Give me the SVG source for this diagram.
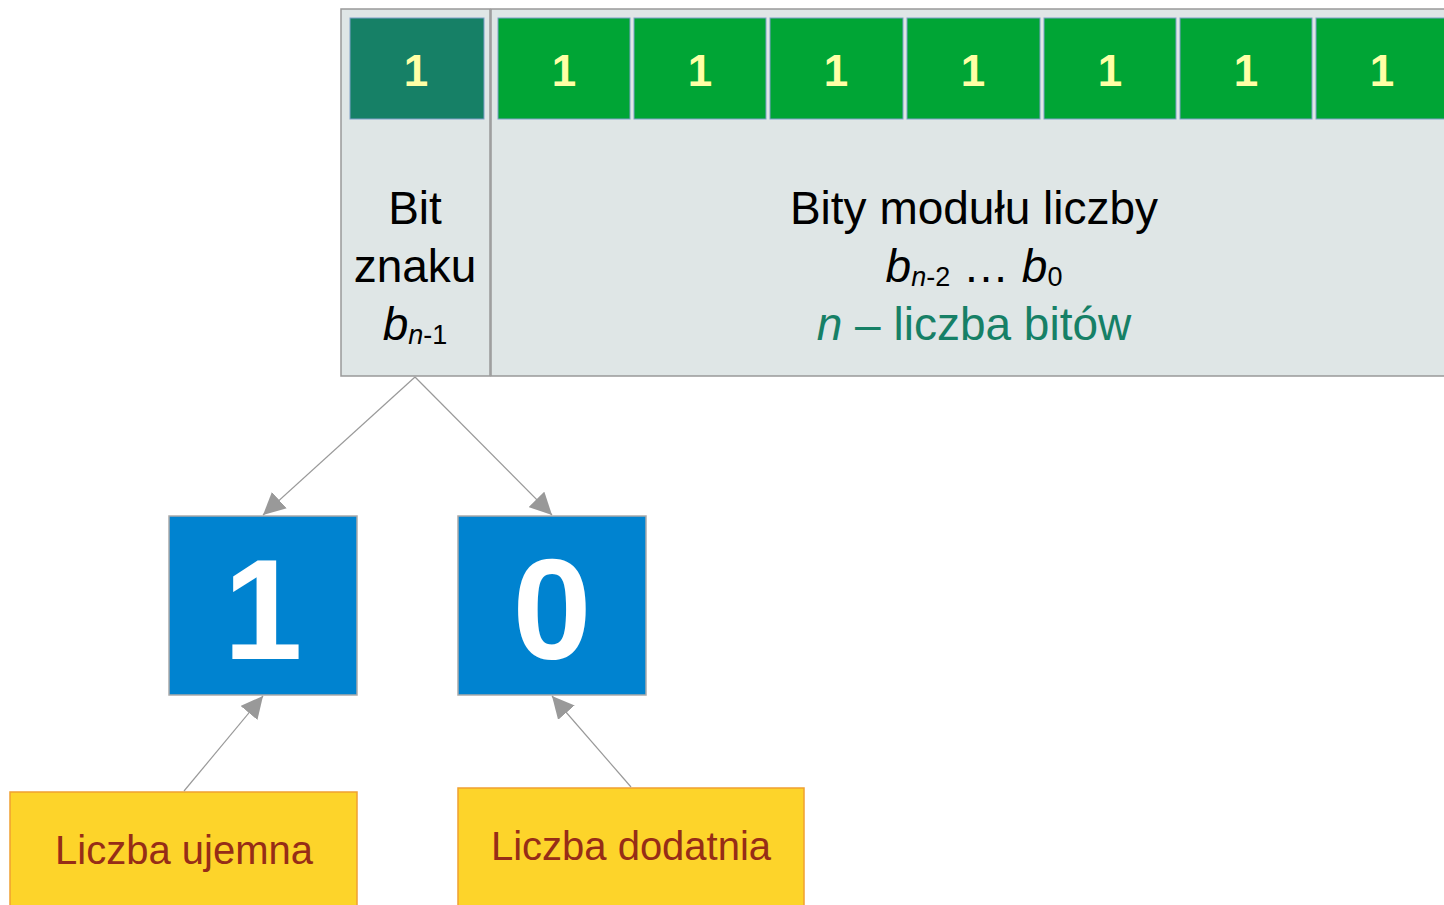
<svg xmlns="http://www.w3.org/2000/svg" width="1444" height="905" viewBox="0 0 1444 905">
<style>
.panel{fill:#dfe6e6;stroke:#999;stroke-width:1.5}
.cell{stroke:#7f9fc8;stroke-width:1}
.g{fill:#00a535}
.t{fill:#168066}
.one{font-family:"Liberation Sans",Arial,sans-serif;font-weight:bold;font-size:44px;fill:#ffffa6;text-anchor:middle}
.lbl{font-family:"Liberation Sans",Arial,sans-serif;font-size:46px;fill:#000;text-anchor:middle}
.blue{fill:#0083d0;stroke:#aaa;stroke-width:1.5}
.big{font-family:"Liberation Sans",Arial,sans-serif;font-weight:bold;font-size:142px;fill:#fff;text-anchor:middle}
.yel{fill:#fdd42a;stroke:#f0a030;stroke-width:1.5}
.ytx{font-family:"Liberation Sans",Arial,sans-serif;font-size:40px;fill:#962d17;text-anchor:middle}
.con{stroke:#999;stroke-width:1.2;fill:none;marker-end:url(#ah)}
</style>
<defs>
<marker id="ah" viewBox="0 0 10 10" refX="10" refY="5" markerWidth="22" markerHeight="22" markerUnits="userSpaceOnUse" orient="auto">
<path d="M0,0 L10,5 L0,10 z" fill="#999"/>
</marker>
</defs>
<g id="sign">
<rect class="panel" x="341" y="9" width="149" height="367"/>
<rect class="cell t" x="350" y="18" width="134" height="101"/>
<text class="one" x="416" y="86">1</text>
<text class="lbl" x="415" y="224">Bit</text>
<text class="lbl" x="415" y="282">znaku</text>
<text class="lbl" x="415" y="340"><tspan font-style="italic">b</tspan><tspan font-size="27" dy="4"><tspan font-style="italic">n</tspan>-1</tspan></text>
</g>
<g id="modulus">
<rect class="panel" x="491" y="9" width="960" height="367"/>
<rect class="cell g" x="498" y="18" width="132" height="101"/>
<rect class="cell g" x="634" y="18" width="132" height="101"/>
<rect class="cell g" x="770" y="18" width="133" height="101"/>
<rect class="cell g" x="907" y="18" width="133" height="101"/>
<rect class="cell g" x="1044" y="18" width="132" height="101"/>
<rect class="cell g" x="1180" y="18" width="132" height="101"/>
<rect class="cell g" x="1316" y="18" width="140" height="101"/>
<text class="one" x="564" y="86">1</text>
<text class="one" x="700" y="86">1</text>
<text class="one" x="836" y="86">1</text>
<text class="one" x="973" y="86">1</text>
<text class="one" x="1110" y="86">1</text>
<text class="one" x="1246" y="86">1</text>
<text class="one" x="1382" y="86">1</text>
<text class="lbl" x="974" y="224">Bity modułu liczby</text>
<text class="lbl" x="974" y="282"><tspan font-style="italic">b</tspan><tspan font-size="27" dy="4"><tspan font-style="italic">n</tspan>-2</tspan><tspan dy="-4"> … </tspan><tspan font-style="italic">b</tspan><tspan font-size="27" dy="4">0</tspan></text>
<text class="lbl" x="974" y="340" style="fill:#168066"><tspan font-style="italic">n</tspan> – liczba bitów</text>
</g>
<g id="box1">
<rect class="blue" x="169" y="516" width="188" height="179"/>
<text class="big" x="263" y="659">1</text>
</g>
<g id="box0">
<rect class="blue" x="458" y="516" width="188" height="179"/>
<text class="big" x="552" y="659">0</text>
</g>
<g id="neg">
<rect class="yel" x="10" y="792" width="347" height="120"/>
<text class="ytx" x="184" y="864">Liczba ujemna</text>
</g>
<g id="pos">
<rect class="yel" x="458" y="788" width="346" height="124"/>
<text class="ytx" x="631" y="860">Liczba dodatnia</text>
</g>
<g id="connectors">
<line class="con" x1="415" y1="377" x2="263" y2="515"/>
<line class="con" x1="415" y1="377" x2="552" y2="515"/>
<line class="con" x1="184" y1="791" x2="263" y2="696"/>
<line class="con" x1="631" y1="787" x2="552" y2="696"/>
</g>
</svg>
